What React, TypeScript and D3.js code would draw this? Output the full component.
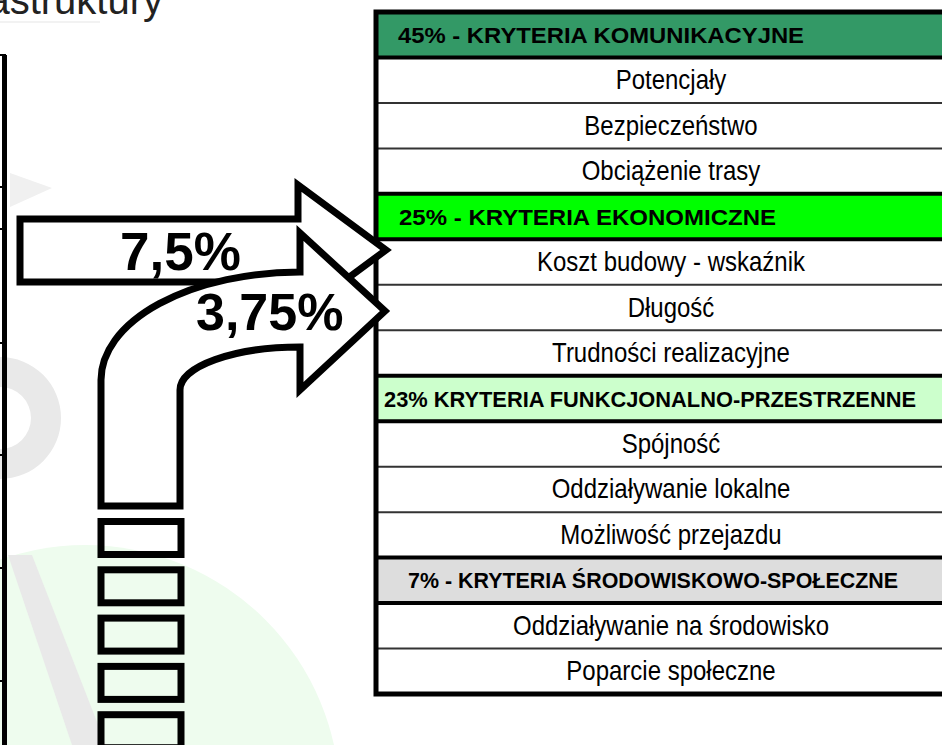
import React, { useEffect } from 'react'
import * as d3 from 'd3'

// criteria groups (weights in %) and their sub-criteria
const groupWeights = [45, 25, 23, 7]
const groupNames = [
  'KRYTERIA KOMUNIKACYJNE',
  'KRYTERIA EKONOMICZNE',
  'KRYTERIA FUNKCJONALNO-PRZESTRZENNE',
  'KRYTERIA ŚRODOWISKOWO-SPOŁECZNE',
]
const groupSeparators = [' - ', ' - ', ' ', ' - ']
const groupItems = [
  ['Potencjały', 'Bezpieczeństwo', 'Obciążenie trasy'],
  ['Koszt budowy - wskaźnik', 'Długość', 'Trudności realizacyjne'],
  ['Spójność', 'Oddziaływanie lokalne', 'Możliwość przejazdu'],
  ['Oddziaływanie na środowisko', 'Poparcie społeczne'],
]
const arrowLabels = ['7,5%', '3,75%']
const titleText = 'infrastruktury'

const groupColors = ['#339966', '#00ff00', '#ccffcc', '#dddddd']
const headerTextOffset = [22, 23, 8, 32]
const headerTextWidth = [406, 377, 532, 490]

const W = 942
const H = 745
const FONT = '"Liberation Sans", Arial, Helvetica, sans-serif'

type Row = { key: string; label: string; header: boolean; group: number }

const rows: Row[] = []
groupNames.forEach((name, g) => {
  rows.push({
    key: 'h' + g,
    label: groupWeights[g] + '%' + groupSeparators[g] + name,
    header: true,
    group: g,
  })
  groupItems[g].forEach((item, i) => {
    rows.push({ key: 'i' + g + '-' + i, label: item, header: false, group: g })
  })
})

export default function App() {
  useEffect(() => {
    document.body.style.margin = '0'
  }, [])

  const tableLeft = 376
  const tableRight = 980
  const y = d3
    .scaleBand<string>()
    .domain(rows.map(r => r.key))
    .range([12, 694])
  const textCenter = 671

  // left decorative axis
  const axisTicks = [55, 187, 229, 343, 455, 568, 681]

  // arrow 1 (straight)
  const a1 = d3.path()
  a1.moveTo(20, 219)
  a1.lineTo(298, 219)
  a1.lineTo(298, 185)
  a1.lineTo(386, 250)
  a1.lineTo(298, 315)
  a1.lineTo(298, 282)
  a1.lineTo(20, 282)
  a1.closePath()

  // arrow 2 (bent)
  const a2 =
    'M101,506 V380 A199,108 0 0 1 300,272 V233 L385,311 L300,390 V347 ' +
    'A120,43 0 0 0 180,390 V506 Z'

  const boxY = d3.scaleLinear().domain([0, 1]).range([521.5, 569.8])

  return (
    <svg width={W} height={H} style={{ display: 'block', background: '#fff' }}>
      {/* faint background logo */}
      <g>
        <circle cx={85} cy={800} r={255} fill="#eefcee" />
        <path d="M8,555 L32,555 L106,745 L72,745 Z" fill="#e9e9e9" />
        <path
          d={d3.arc()({ innerRadius: 31, outerRadius: 61, startAngle: 0, endAngle: Math.PI * 2 }) || ''}
          transform="translate(0,418)"
          fill="#e9e9e9"
        />
        <path d="M10,173 L52,188 L10,207 Z" fill="#f0f0f0" />
        <line x1={0} x2={100} y1={22} y2={22} stroke="#f2f2f2" strokeWidth={2} />
      </g>

      {/* title fragment */}
      <text x={163} y={14} textAnchor="end" fontFamily={FONT} fontSize={40} fill="#222">
        {titleText}
      </text>

      {/* left axis */}
      <line x1={4.5} x2={4.5} y1={55} y2={H} stroke="#000" strokeWidth={5} />
      {axisTicks.map(t => (
        <line key={t} x1={0} x2={6} y1={t} y2={t} stroke="#000" strokeWidth={2} />
      ))}

      {/* table */}
      <g>
        {rows.map(r => (
          <rect
            key={r.key}
            x={tableLeft}
            y={y(r.key)}
            width={tableRight - tableLeft}
            height={y.bandwidth()}
            fill={r.header ? groupColors[r.group] : '#fff'}
          />
        ))}
        {rows.map((r, i) => {
          if (i === 0) return null
          const prev = rows[i - 1]
          const thick = r.header !== prev.header || (r.header && prev.header)
          const yy = y(r.key) as number
          return (
            <line
              key={'l' + r.key}
              x1={tableLeft}
              x2={tableRight}
              y1={yy}
              y2={yy}
              stroke={thick ? '#000' : '#333'}
              strokeWidth={thick ? 4 : 2}
            />
          )
        })}
        {rows.map(r => {
          const yy = (y(r.key) as number) + y.bandwidth() / 2
          return r.header ? (
            <text
              key={'t' + r.key}
              x={tableLeft + headerTextOffset[r.group]}
              y={yy}
              dy="0.37em"
              fontFamily={FONT}
              fontWeight="bold"
              fontSize={22}
              textLength={headerTextWidth[r.group]}
              lengthAdjust="spacingAndGlyphs"
              fill="#000"
            >
              {r.label}
            </text>
          ) : (
            <text
              key={'t' + r.key}
              transform={`translate(${textCenter},${yy + 9}) scale(1,1.12)`}
              textAnchor="middle"
              fontFamily={FONT}
              fontSize={24}
              fill="#000"
            >
              {r.label}
            </text>
          )
        })}
        <rect
          x={tableLeft}
          y={y(rows[0].key)}
          width={tableRight - tableLeft}
          height={(y(rows[rows.length - 1].key) as number) + y.bandwidth() - (y(rows[0].key) as number)}
          fill="none"
          stroke="#000"
          strokeWidth={5}
        />
      </g>

      {/* ladder under bent arrow */}
      {d3.range(5).map(i => (
        <rect
          key={'b' + i}
          x={101}
          y={boxY(i)}
          width={80}
          height={33}
          fill="none"
          stroke="#000"
          strokeWidth={7}
        />
      ))}

      {/* arrows */}
      <path d={a1.toString()} fill="#fff" stroke="#000" strokeWidth={7} strokeLinejoin="miter" />
      <text x={120} y={270} fontFamily={FONT} fontWeight="bold" fontSize={53} fill="#000">
        {arrowLabels[0]}
      </text>
      <path d={a2} fill="#fff" stroke="#000" strokeWidth={7} strokeLinejoin="miter" />
      <text x={196} y={330} fontFamily={FONT} fontWeight="bold" fontSize={52} fill="#000">
        {arrowLabels[1]}
      </text>
    </svg>
  )
}
